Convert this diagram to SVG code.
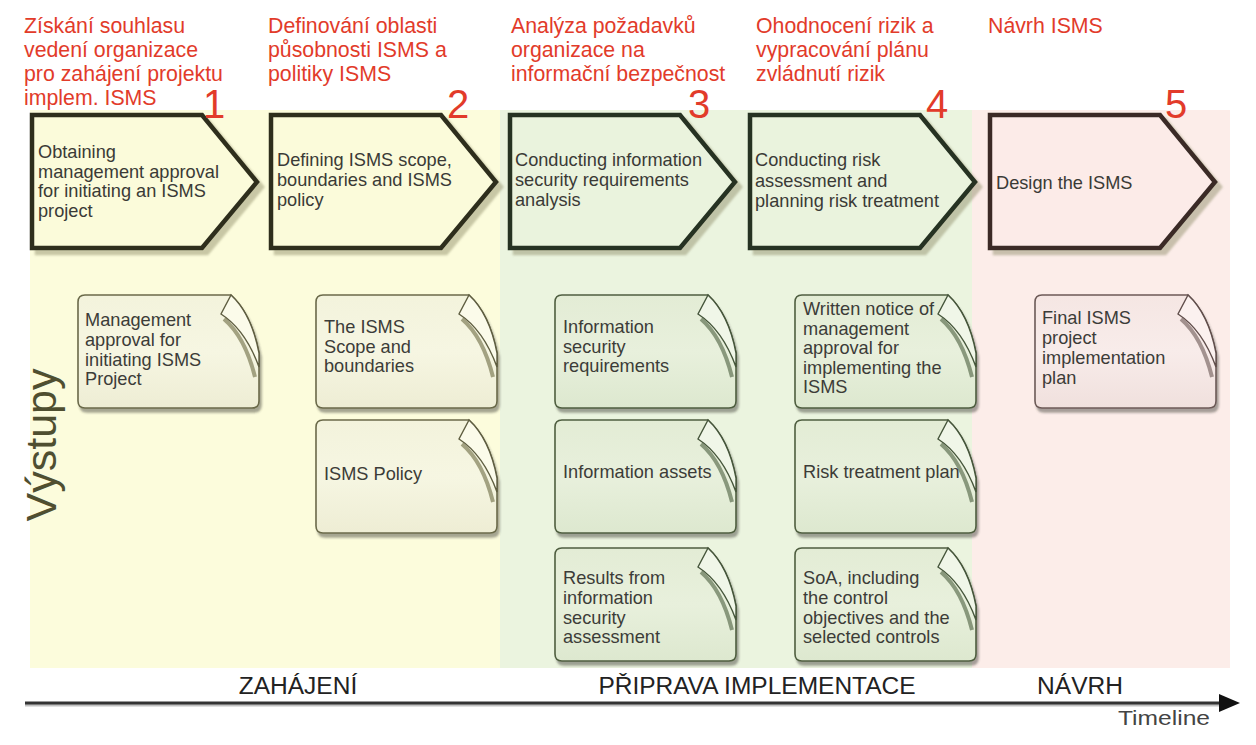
<svg xmlns="http://www.w3.org/2000/svg" xmlns:xlink="http://www.w3.org/1999/xlink" width="1256" height="745" viewBox="0 0 1256 745">
<style>
.hdr{font-family:"Liberation Sans",Arial,sans-serif;font-size:21.3px;fill:#e23b2a}
.num{font-family:"Liberation Sans",Arial,sans-serif;font-size:40px;fill:#e23b2a;text-anchor:middle}
.ct{font-family:"Liberation Sans",Arial,sans-serif;font-size:18.2px;fill:#3a3a36}
.dt{font-family:"Liberation Sans",Arial,sans-serif;font-size:18.2px;fill:#3c3c38}
.ph{font-family:"Liberation Sans",Arial,sans-serif;font-size:24.5px;fill:#222;text-anchor:middle}
.chev{stroke-width:4.5;stroke-linejoin:miter;filter:url(#chsh)}
.cy{fill:#fbfbda;stroke:#2f2f1e}
.cg{fill:#eaf3dd;stroke:#253222}
.cp{fill:#fcebe8;stroke:#3a2c28}
.body{stroke-width:1.6;filter:url(#docsh)}
.by{fill:url(#gy);stroke:#6b6a4a}
.bg{fill:url(#gg);stroke:#4f5e40}
.bp{fill:url(#gp);stroke:#6c5a57}
.flap{stroke-width:1.4}
.fy{fill:#fbfbea;stroke:#5e5d40}
.fg{fill:#f0f6e8;stroke:#45553a}
.fp{fill:#fbf1ef;stroke:#604e4b}
.fs{fill:none;stroke-width:4;opacity:.65}
.sy{stroke:#76754f}
.sg{stroke:#56684a}
.sp{stroke:#74625f}
</style>
<defs>
<filter id="chsh" x="-10%" y="-10%" width="130%" height="130%">
<feDropShadow dx="5" dy="5" stdDeviation="1.2" flood-color="#8a8860" flood-opacity="0.45"/>
</filter>
<filter id="docsh" x="-10%" y="-10%" width="130%" height="130%">
<feDropShadow dx="2" dy="4" stdDeviation="1.3" flood-color="#3a3a30" flood-opacity="0.45"/>
</filter>
<linearGradient id="gy" x1="0" y1="0" x2="0" y2="1"><stop offset="0" stop-color="#f3f3dc"/><stop offset="0.5" stop-color="#f6f6e2"/><stop offset="1" stop-color="#eeedd4"/></linearGradient>
<linearGradient id="gg" x1="0" y1="0" x2="0" y2="1"><stop offset="0" stop-color="#e3ecd5"/><stop offset="0.5" stop-color="#e8f0dc"/><stop offset="1" stop-color="#dde8cf"/></linearGradient>
<linearGradient id="gp" x1="0" y1="0" x2="0" y2="1"><stop offset="0" stop-color="#f5e6e3"/><stop offset="0.5" stop-color="#f8ecea"/><stop offset="1" stop-color="#f0e0dd"/></linearGradient>
<path id="chevron" d="M0,0 H170 L225,67 L170,133 H0 Z"/>
<path id="docbody" d="M7,0 H153 C166,12 176,32 181,58 V106 Q181,113 174,113 H7 Q0,113 0,106 V7 Q0,0 7,0 Z"/>
<path id="docshade" d="M146,24 C160,36 170,54 177,82"/>
<path id="docflap" d="M153,0 L143,19 C160,30 173,50 181,72 L181,58 C176,32 166,12 153,0 Z"/>
<g id="docY"><use href="#docbody" class="body by"/><use href="#docshade" class="fs sy"/><use href="#docflap" class="flap fy"/></g>
<g id="docG"><use href="#docbody" class="body bg"/><use href="#docshade" class="fs sg"/><use href="#docflap" class="flap fg"/></g>
<g id="docP"><use href="#docbody" class="body bp"/><use href="#docshade" class="fs sp"/><use href="#docflap" class="flap fp"/></g>
<marker id="ah" markerWidth="8" markerHeight="8" refX="1" refY="4" orient="auto" markerUnits="strokeWidth">
<path d="M0,1 L7,4 L0,7 Z" fill="#111"/>
</marker>
</defs>
<rect width="1256" height="745" fill="#fff"/>
<g id="backgrounds">
<rect x="30" y="110" width="470" height="558" fill="#fcfcdc"/>
<rect x="500" y="110" width="472" height="558" fill="#ebf4df"/>
<rect x="972" y="110" width="258" height="558" fill="#fcede9"/>
</g>
<g id="headers">
<text class="hdr" x="24" y="33">Získání souhlasu</text>
<text class="hdr" x="24" y="57">vedení organizace</text>
<text class="hdr" x="24" y="81">pro zahájení projektu</text>
<text class="hdr" x="24" y="105">implem. ISMS</text>
<text class="hdr" x="268" y="33">Definování oblasti</text>
<text class="hdr" x="268" y="57">působnosti ISMS a</text>
<text class="hdr" x="268" y="81">politiky ISMS</text>
<text class="hdr" x="511" y="33">Analýza požadavků</text>
<text class="hdr" x="511" y="57">organizace na</text>
<text class="hdr" x="511" y="81">informační bezpečnost</text>
<text class="hdr" x="756" y="33">Ohodnocení rizik a</text>
<text class="hdr" x="756" y="57">vypracování plánu</text>
<text class="hdr" x="756" y="81">zvládnutí rizik</text>
<text class="hdr" x="988" y="33">Návrh ISMS</text>
</g>
<g id="step1">
<use href="#chevron" class="chev cy" transform="translate(32,115)"/>
<text class="num" x="214" y="118">1</text>
<text class="ct" x="38" y="158">Obtaining</text>
<text class="ct" x="38" y="178">management approval</text>
<text class="ct" x="38" y="197">for initiating an ISMS</text>
<text class="ct" x="38" y="217">project</text>
</g>
<g id="step2">
<use href="#chevron" class="chev cy" transform="translate(271,115)"/>
<text class="num" x="458" y="118">2</text>
<text class="ct" x="277" y="166">Defining ISMS scope,</text>
<text class="ct" x="277" y="186">boundaries and ISMS</text>
<text class="ct" x="277" y="206">policy</text>
</g>
<g id="step3">
<use href="#chevron" class="chev cg" transform="translate(510,115)"/>
<text class="num" x="699" y="118">3</text>
<text class="ct" x="515" y="166">Conducting information</text>
<text class="ct" x="515" y="186">security requirements</text>
<text class="ct" x="515" y="206">analysis</text>
</g>
<g id="step4">
<use href="#chevron" class="chev cg" transform="translate(750,115)"/>
<text class="num" x="937" y="118">4</text>
<text class="ct" x="755" y="166">Conducting risk</text>
<text class="ct" x="755" y="187">assessment and</text>
<text class="ct" x="755" y="207">planning risk treatment</text>
</g>
<g id="step5">
<use href="#chevron" class="chev cp" transform="translate(990,115)"/>
<text class="num" x="1176" y="118">5</text>
<text class="ct" x="996" y="189">Design the ISMS</text>
</g>
<g id="label-vystupy">
<text transform="translate(56,445) rotate(-90)" font-family="Liberation Sans, Arial, sans-serif" font-size="43" fill="#4f4f30" text-anchor="middle">Výstupy</text>
</g>
<g id="out1">
<use href="#docY" transform="translate(78,295)"/>
<text class="dt" x="85" y="326">Management</text>
<text class="dt" x="85" y="346">approval for</text>
<text class="dt" x="85" y="366">initiating ISMS</text>
<text class="dt" x="85" y="385">Project</text>
</g>
<g id="out2a">
<use href="#docY" transform="translate(316,295)"/>
<text class="dt" x="324" y="333">The ISMS</text>
<text class="dt" x="324" y="353">Scope and</text>
<text class="dt" x="324" y="372">boundaries</text>
</g>
<g id="out2b">
<use href="#docY" transform="translate(316,420)"/>
<text class="dt" x="324" y="480">ISMS Policy</text>
</g>
<g id="out3a">
<use href="#docG" transform="translate(555,295)"/>
<text class="dt" x="563" y="333">Information</text>
<text class="dt" x="563" y="353">security</text>
<text class="dt" x="563" y="372">requirements</text>
</g>
<g id="out3b">
<use href="#docG" transform="translate(555,420)"/>
<text class="dt" x="563" y="478">Information assets</text>
</g>
<g id="out3c">
<use href="#docG" transform="translate(555,548)"/>
<text class="dt" x="563" y="584">Results from</text>
<text class="dt" x="563" y="604">information</text>
<text class="dt" x="563" y="624">security</text>
<text class="dt" x="563" y="643">assessment</text>
</g>
<g id="out4a">
<use href="#docG" transform="translate(795,295)"/>
<text class="dt" x="803" y="315">Written notice of</text>
<text class="dt" x="803" y="335">management</text>
<text class="dt" x="803" y="354">approval for</text>
<text class="dt" x="803" y="374">implementing the</text>
<text class="dt" x="803" y="393">ISMS</text>
</g>
<g id="out4b">
<use href="#docG" transform="translate(795,420)"/>
<text class="dt" x="803" y="478">Risk treatment plan</text>
</g>
<g id="out4c">
<use href="#docG" transform="translate(795,548)"/>
<text class="dt" x="803" y="584">SoA, including</text>
<text class="dt" x="803" y="604">the control</text>
<text class="dt" x="803" y="624">objectives and the</text>
<text class="dt" x="803" y="643">selected controls</text>
</g>
<g id="out5">
<use href="#docP" transform="translate(1035,295)"/>
<text class="dt" x="1042" y="324">Final ISMS</text>
<text class="dt" x="1042" y="344">project</text>
<text class="dt" x="1042" y="364">implementation</text>
<text class="dt" x="1042" y="384">plan</text>
</g>
<g id="phases">
<text class="ph" x="298" y="694">ZAHÁJENÍ</text>
<text class="ph" x="757" y="694">PŘIPRAVA IMPLEMENTACE</text>
<text class="ph" x="1080" y="694">NÁVRH</text>
</g>
<g id="connectors">
<line x1="25" y1="705" x2="1222" y2="705" stroke="#999" stroke-width="3" opacity="0.6"/>
<line x1="25" y1="703" x2="1222" y2="703" stroke="#333" stroke-width="3" marker-end="url(#ah)"/>
<text x="1118" y="725" font-family="Liberation Sans, Arial, sans-serif" font-size="21" fill="#444" textLength="92" lengthAdjust="spacingAndGlyphs">Timeline</text>
</g>
</svg>
